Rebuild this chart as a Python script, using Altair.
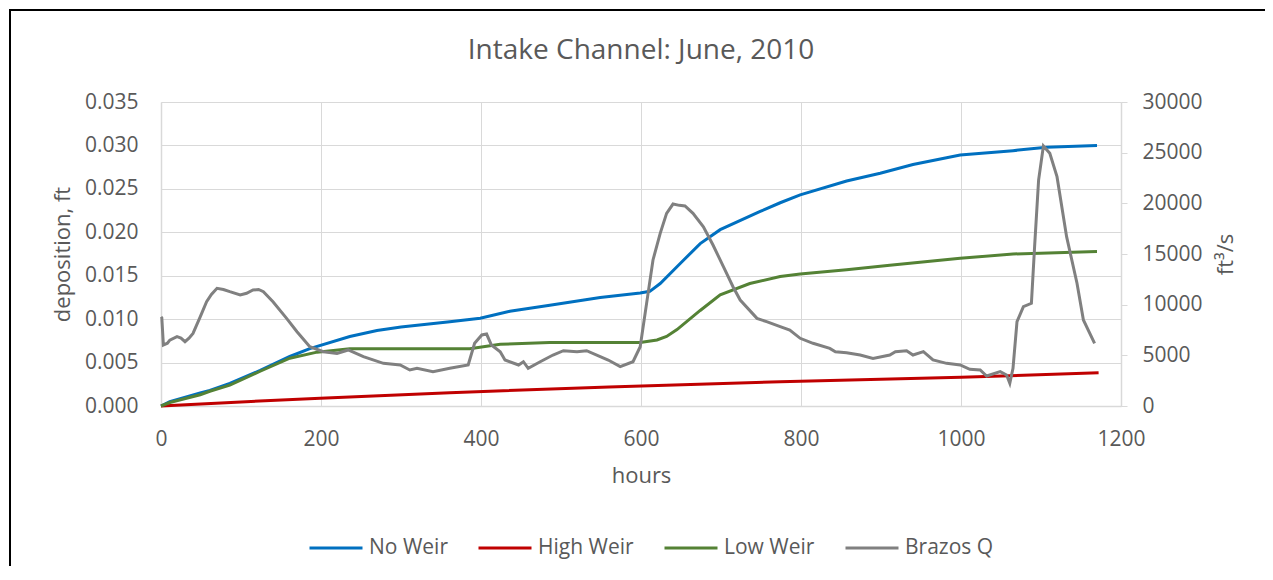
import altair as alt
import pandas as pd

# ---------------- data ----------------
series_names = ["No Weir", "High Weir", "Low Weir", "Brazos Q"]
series_colors = ["#0070C0", "#C00000", "#548235", "#808080"]

no_weir_hours = [0, 11, 49, 61, 86, 124, 161, 186, 236, 270, 300, 361, 399, 436, 486,
                 549, 599, 611, 624, 649, 674, 699, 749, 774, 799, 857, 899, 940, 999,
                 1065, 1107, 1170]
no_weir = [0.0, 0.0005, 0.0015, 0.0018, 0.0026, 0.0041, 0.0057, 0.0066, 0.0080, 0.0087,
           0.0091, 0.0097, 0.0101, 0.0109, 0.0116, 0.0125, 0.0130, 0.0132, 0.0141, 0.0164,
           0.0187, 0.0203, 0.0224, 0.0234, 0.0243, 0.0259, 0.0268, 0.0278, 0.0289, 0.0294,
           0.0298, 0.0300]

high_weir_hours = [0, 100, 199, 361, 560, 774, 1000, 1172]
high_weir = [0.0, 0.00047, 0.00089, 0.00153, 0.0022, 0.0028, 0.0033, 0.00384]

low_weir_hours = [0, 11, 49, 61, 86, 124, 161, 195, 236, 300, 386, 424, 486, 599, 620,
                  632, 645, 674, 699, 736, 774, 799, 857, 911, 999, 1065, 1170]
low_weir = [0.0, 0.0004, 0.0013, 0.0017, 0.0024, 0.0040, 0.0055, 0.0062, 0.0066, 0.0066,
            0.0066, 0.0071, 0.0073, 0.0073, 0.0076, 0.0080, 0.0088, 0.0110, 0.0128, 0.0141,
            0.0149, 0.0152, 0.0157, 0.0162, 0.0170, 0.0175, 0.0178]

brazos_hours = [0, 1, 3, 8, 11, 20, 25, 30, 35, 40, 49, 57, 63, 70, 78, 86, 99, 107, 115,
                122, 128, 140, 157, 170, 186, 203, 220, 234, 253, 278, 299, 311, 320, 340,
                361, 384, 392, 401, 407, 413, 424, 430, 447, 453, 459, 474, 490, 503, 520,
                532, 549, 559, 574, 590, 599, 607, 615, 624, 632, 640, 648, 655, 665, 678,
                690, 703, 715, 724, 745, 757, 774, 786, 799, 815, 836, 843, 857, 874, 890,
                911, 918, 932, 940, 953, 965, 982, 999, 1011, 1024, 1032, 1049, 1057, 1061,
                1065, 1070, 1078, 1088, 1092, 1097, 1103, 1111, 1120, 1132, 1145, 1153, 1167]
brazos_q = [8800, 8700, 6020, 6200, 6500, 6840, 6700, 6350, 6700, 7170, 8800, 10290, 11000,
            11610, 11500, 11280, 10950, 11120, 11450, 11500, 11280, 10290, 8650, 7330, 5850,
            5360, 5190, 5530, 4870, 4210, 4050, 3550, 3720, 3390, 3720, 4050, 6190, 7010,
            7100, 6020, 5360, 4540, 4050, 4370, 3720, 4370, 5030, 5460, 5360, 5460, 4870,
            4540, 3880, 4370, 5850, 10130, 14410, 17040, 19010, 19930, 19800, 19740, 19010,
            17690, 15890, 13750, 11770, 10460, 8650, 8320, 7830, 7500, 6680, 6190, 5690,
            5360, 5260, 5030, 4700, 5030, 5360, 5460, 5030, 5360, 4540, 4210, 4050, 3620,
            3550, 2960, 3390, 3060, 2240, 3720, 8320, 9800, 10130, 15720, 22300, 25660,
            24940, 22630, 16710, 12110, 8490, 6190]

x_ticks = [0, 200, 400, 600, 800, 1000, 1200]
left_ticks = [0.0, 0.005, 0.010, 0.015, 0.020, 0.025, 0.030, 0.035]
right_ticks = [0, 5000, 10000, 15000, 20000, 25000, 30000]

# ---------------- tables ----------------
dep_rows = []
for name, hrs, vals in [("No Weir", no_weir_hours, no_weir),
                        ("High Weir", high_weir_hours, high_weir),
                        ("Low Weir", low_weir_hours, low_weir)]:
    for h, v in zip(hrs, vals):
        dep_rows.append({"hours": h, "value": v, "series": name})
df_dep = pd.DataFrame(dep_rows)
df_q = pd.DataFrame({"hours": brazos_hours, "flow": brazos_q, "series": "Brazos Q"})

FONT = "Open Sans"
TXT = "#595959"
GRID = "#d9d9d9"

color_scale = alt.Scale(domain=series_names, range=series_colors)
legend = alt.Legend(orient="none", legendX=147, legendY=418, direction="horizontal",
                    title=None, symbolType="stroke", symbolSize=2809, symbolStrokeWidth=3,
                    labelFont=FONT, labelFontSize=21, labelColor=TXT, labelOffset=5,
                    columnPadding=24)

x_enc = alt.X("hours:Q", scale=alt.Scale(domain=[0, 1200], nice=False),
              axis=alt.Axis(values=x_ticks, format="d", title="hours", grid=True,
                            ticks=False, labelFlush=False, labelPadding=22,
                            titlePadding=16))

border = alt.Chart(alt.Data(values=[{"k": 1}])).mark_rect(
    fillOpacity=0, stroke="black", strokeWidth=2
).encode(x=alt.value(-151), x2=alt.value(1300), y=alt.value(-92), y2=alt.value(700))

dep = alt.Chart(df_dep).mark_line(strokeWidth=3).encode(
    x=x_enc,
    y=alt.Y("value:Q", scale=alt.Scale(domain=[0, 0.035], nice=False),
            axis=alt.Axis(orient="left", values=left_ticks, format=".3f",
                          title="deposition, ft", grid=True, ticks=False,
                          labelPadding=23, titlePadding=10)),
    color=alt.Color("series:N", scale=color_scale, legend=legend),
)

flow = alt.Chart(df_q).mark_line(strokeWidth=3).encode(
    x=alt.X("hours:Q"),
    y=alt.Y("flow:Q", scale=alt.Scale(domain=[0, 30000], nice=False),
            axis=alt.Axis(orient="right", values=right_ticks, format="d",
                          title="ft³/s", grid=False, ticks=True, tickSize=6,
                          labelPadding=15, titlePadding=13, titleAngle=270,
                          titleBaseline="top")),
    color=alt.Color("series:N", scale=color_scale, legend=legend),
)

chart = alt.layer(border, dep, flow).resolve_scale(y="independent").properties(
    width=960, height=304,
    autosize=alt.AutoSizeParams(type="none"),
    padding={"left": 153, "top": 94, "right": 144, "bottom": 160},
    title=alt.TitleParams("Intake Channel: June, 2010", font=FONT, fontSize=28,
                          fontWeight="normal", color=TXT, anchor="middle",
                          frame="group", offset=-56),
).configure_view(strokeWidth=0).configure_axis(
    labelFont=FONT, labelFontSize=21, labelColor=TXT,
    titleFont=FONT, titleFontSize=22, titleColor=TXT, titleFontWeight="normal",
    gridColor=GRID, gridWidth=1, domainColor=GRID, domainWidth=1.5, tickColor=GRID,
)

chart.save("out.html", embed_options={"renderer": "svg", "actions": False})
